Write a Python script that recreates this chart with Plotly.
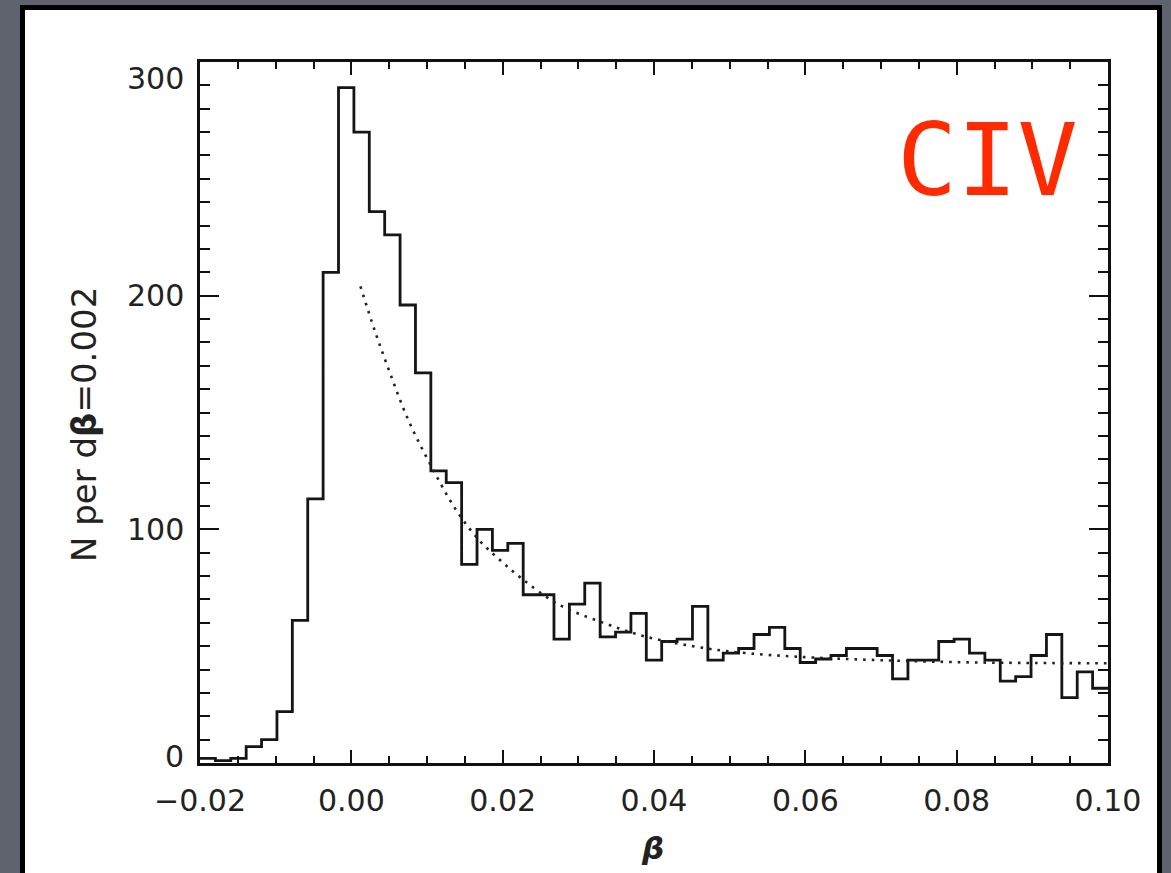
import numpy as np
import plotly.graph_objects as go

# ---- data ----
BIN_LO = -0.02
BIN_HI = 0.10
counts = [2, 1, 2, 7, 10, 22, 61, 113, 210, 289,
          270, 236, 226, 196, 167, 125, 120, 85, 100, 91,
          94, 72, 72, 53, 68, 77, 54, 56, 64, 44,
          52, 53, 67, 44, 47, 49, 55, 58, 49, 43,
          44.5, 46, 49, 49, 46, 36, 44, 44, 52, 53,
          47, 44, 35, 37, 46, 55, 28, 39, 32]

fit_x = [0.0012, 0.0031, 0.0051, 0.0075, 0.0104, 0.0139, 0.0170, 0.0196, 0.0225,
         0.0273, 0.0333, 0.0390, 0.0470, 0.0523, 0.0589, 0.0699, 0.0832, 0.1000]
fit_y = [204, 185, 167, 147, 128, 108, 95, 87, 79,
         68, 60, 54, 49, 47, 45.5, 44, 43, 42.7]

x_ticks = [-0.02, 0.00, 0.02, 0.04, 0.06, 0.08, 0.10]
x_ticktext = ["\u22120.02", "0.00", "0.02", "0.04", "0.06", "0.08", "0.10"]
y_ticks = [0, 100, 200, 300]
y_ticktext = ["0", "100", "200", "300"]
# vertical nudges (px) of y labels kept inside the frame, as in the reference
y_label_shift = [7, 0, 0, -16]

# ---- build figure ----
n_bins = len(counts)
edges = np.linspace(BIN_LO, BIN_HI, n_bins + 1)
step_x = list(edges)
step_y = list(counts) + [counts[-1]]

W, H = 1171, 873
ML, MR, MT, MB = 200, 63, 62, 110
PW, PH = W - ML - MR, H - MT - MB

def px2x(px):
    return (px - ML) / PW

def py2y(py):
    return 1 - (py - MT) / PH

fig = go.Figure()
fig.add_trace(go.Scatter(x=step_x, y=step_y, mode="lines",
                         line=dict(shape="hv", color="#151515", width=2.8),
                         hoverinfo="skip", showlegend=False))
fig.add_trace(go.Scatter(x=fit_x, y=fit_y, mode="lines",
                         line=dict(shape="spline", color="#222222", width=2.6, dash="2.6px,6px"),
                         hoverinfo="skip", showlegend=False))

tickfont = dict(family="DejaVu Sans", size=30, color="#222222")
axis_common = dict(showline=True, linewidth=2.8, linecolor="#111111", mirror="allticks",
                   ticks="inside", tickwidth=2, tickcolor="#111111", showgrid=False,
                   zeroline=False, tickfont=tickfont)

fig.update_xaxes(range=[BIN_LO, BIN_HI], tickmode="array", tickvals=x_ticks,
                 ticktext=x_ticktext, ticklen=13, ticklabelstandoff=9,
                 minor=dict(ticks="inside", ticklen=7, tickwidth=2, tickcolor="#111111",
                            dtick=0.005, tick0=0, showgrid=False),
                 **axis_common)
fig.update_yaxes(range=[0, 300], tickmode="array", tickvals=y_ticks,
                 ticktext=y_ticktext, ticklen=19, showticklabels=False,
                 minor=dict(ticks="inside", ticklen=10, tickwidth=2, tickcolor="#111111",
                            dtick=10, tick0=0, showgrid=False),
                 **axis_common)

fig.add_shape(type="rect", xref="paper", yref="paper",
              x0=px2x(22.5), x1=px2x(1159.5), y0=py2y(885), y1=py2y(7.5),
              fillcolor="white", line=dict(color="black", width=5), layer="below")

for v, t, s in zip(y_ticks, y_ticktext, y_label_shift):
    fig.add_annotation(text=t, xref="paper", yref="y", x=0, y=v, xshift=-14, yshift=s,
                       showarrow=False, xanchor="right", yanchor="middle", font=tickfont)

fig.add_annotation(text="N per d<b>\u03b2</b>=0.002", xref="paper", yref="paper",
                   x=px2x(84), y=py2y(425), textangle=-90, showarrow=False,
                   font=dict(family="DejaVu Sans", size=34, color="#222222"),
                   xanchor="center", yanchor="middle")
fig.add_annotation(text="<b><i>\u03b2</i></b>", xref="paper", yref="paper",
                   x=px2x(652), y=py2y(848), showarrow=False,
                   font=dict(family="DejaVu Sans", size=31, color="#222222"),
                   xanchor="center", yanchor="middle")
fig.add_annotation(text="CIV", xref="paper", yref="paper",
                   x=px2x(987), y=py2y(160), showarrow=False,
                   font=dict(family="DejaVu Sans Mono", size=100, color="#ff2a00"),
                   xanchor="center", yanchor="middle")

fig.update_layout(width=W, height=H, margin=dict(l=ML, r=MR, t=MT, b=MB),
                  paper_bgcolor="#5e636d", plot_bgcolor="white", showlegend=False)

fig.write_html("out.html")
